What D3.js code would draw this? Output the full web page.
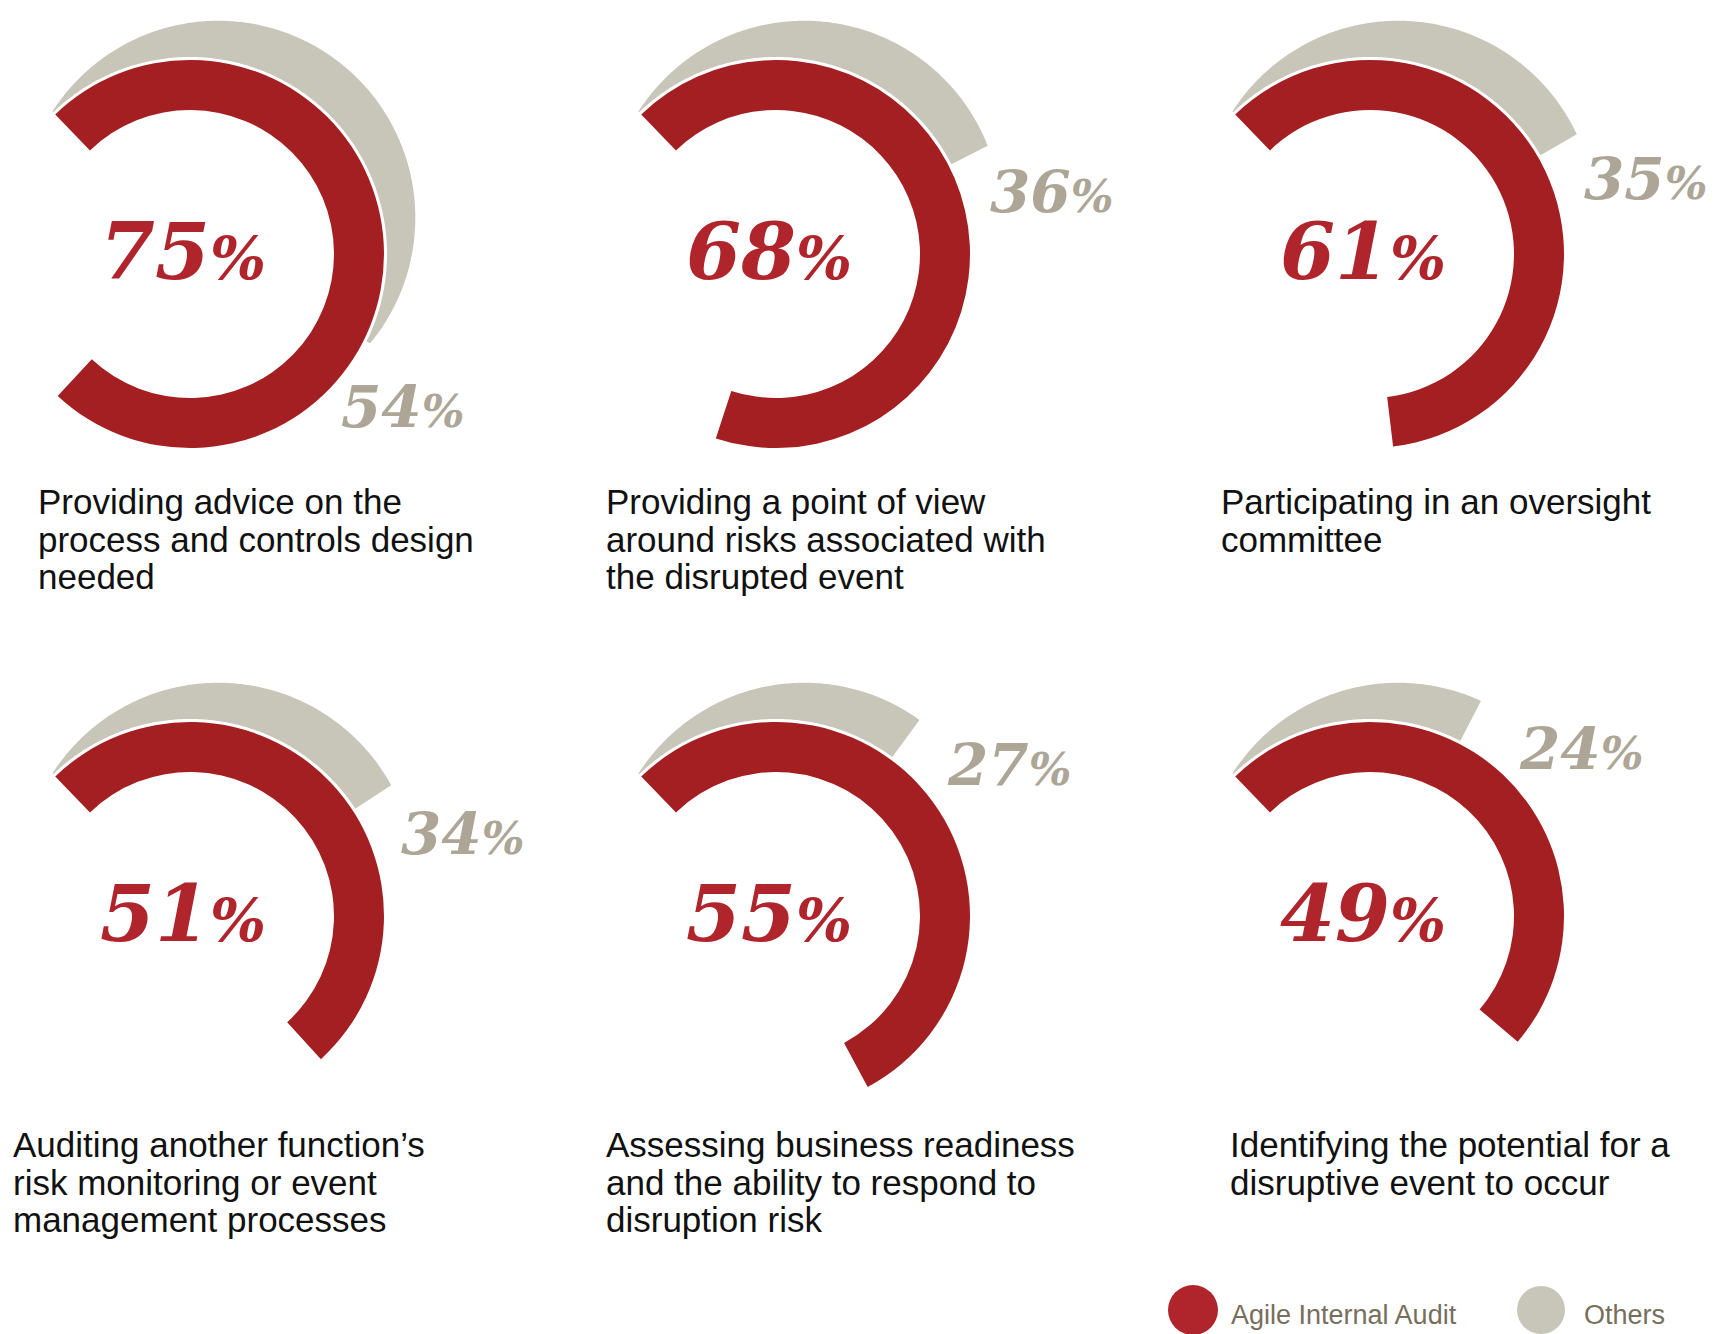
<!DOCTYPE html>
<html>
<head>
<meta charset="utf-8">
<script src="https://cdn.jsdelivr.net/npm/d3@7"></script>
<style>
  body { margin: 0; background: #fff; }
</style>
</head>
<body>
<div id="chart"></div>
<script>
// chart data
var categories = [
  ["Providing advice on the", "process and controls design", "needed"],
  ["Providing a point of view", "around risks associated with", "the disrupted event"],
  ["Participating in an oversight", "committee"],
  ["Auditing another function\u2019s", "risk monitoring or event", "management processes"],
  ["Assessing business readiness", "and the ability to respond to", "disruption risk"],
  ["Identifying the potential for a", "disruptive event to occur"]
];
var agileValues = [75, 68, 61, 51, 55, 49];
var otherValues = [54, 36, 35, 34, 27, 24];
var seriesNames = ["Agile Internal Audit", "Others"];

// layout
var svgWidth = 1723;
var svgHeight = 1334;
var colX = [190, 776, 1370];
var rowY = [254, 916];
var labelX = [38, 606, 1221, 13, 606, 1230];
var labelY = [514, 1157];
var lineHeight = 37.5;
// where the "others" value label sits, relative to each ring's centre
var otherLabelPos = [[151, 173], [214, -42], [214, -55], [211, -62], [172, -131], [150, -147]];

var redColor = "#a31f22";
var redText = "#b0242b";
var greyColor = "#c8c5b9";
var greyText = "#ada697";

var rad = Math.PI / 180;

// angle scales (0 = 12 o'clock, clockwise)
var redAngle = d3.scaleLinear().domain([0, 100]).range([-44 * rad, 312 * rad]);
var greyAngle = d3.scaleLinear().domain([0, 100]).range([-44 * rad, 253 * rad]);

// red ring
var redArc = d3.arc()
  .innerRadius(144)
  .outerRadius(194);

// grey crescent: inner edge hugs the red ring, outer edge is an offset circle
var greyInner = 197;
var offD = 46, offPhi = 38 * rad, offR = 197;
function greyOuter(a) {
  var t = offD * Math.cos(a - offPhi) + Math.sqrt(offR * offR - Math.pow(offD * Math.sin(a - offPhi), 2));
  return Math.max(t, greyInner);
}
var greyArea = d3.areaRadial()
  .angle(d => d)
  .innerRadius(greyInner)
  .outerRadius(d => greyOuter(d));

var svg = d3.select("#chart")
  .append("svg")
  .attr("width", svgWidth)
  .attr("height", svgHeight);

agileValues.forEach(function(v, i) {
  var cx = colX[i % 3];
  var cy = rowY[Math.floor(i / 3)];
  var g = svg.append("g").attr("transform", `translate(${cx}, ${cy})`);

  // grey arc (others)
  var a0 = greyAngle(0), a1 = greyAngle(otherValues[i]);
  var steps = d3.range(a0, a1, 0.5 * rad).concat([a1]);
  g.append("path")
    .attr("d", greyArea(steps))
    .attr("fill", greyColor);

  // red arc (agile)
  g.append("path")
    .attr("d", redArc({ startAngle: redAngle(0), endAngle: redAngle(v) }))
    .attr("fill", redColor);

  // center value
  var t = g.append("text")
    .attr("x", -7)
    .attr("y", 25)
    .attr("text-anchor", "middle")
    .attr("font-family", "DejaVu Serif")
    .attr("font-weight", "bold")
    .attr("font-style", "italic")
    .attr("fill", redText)
    .attr("font-size", 79);
  t.append("tspan").text(v);
  t.append("tspan").attr("font-size", 59).text("%");

  // grey value
  var gt = g.append("text")
    .attr("x", otherLabelPos[i][0])
    .attr("y", otherLabelPos[i][1])
    .attr("font-family", "DejaVu Serif")
    .attr("font-weight", "bold")
    .attr("font-style", "italic")
    .attr("fill", greyText)
    .attr("font-size", 58);
  gt.append("tspan").text(otherValues[i]);
  gt.append("tspan").attr("font-size", 45).text("%");

  // category label
  var lt = svg.append("text")
    .attr("x", labelX[i])
    .attr("y", labelY[Math.floor(i / 3)])
    .attr("font-family", "Liberation Sans, Arial, sans-serif")
    .attr("font-size", 35)
    .attr("fill", "#111");
  lt.selectAll("tspan")
    .data(categories[i])
    .enter()
    .append("tspan")
    .attr("x", labelX[i])
    .attr("dy", (d, j) => j === 0 ? 0 : lineHeight)
    .text(d => d);
});

// legend
var legendX = [1193, 1541];
var legend = svg.append("g");
seriesNames.forEach(function(name, i) {
  legend.append("circle")
    .attr("cx", legendX[i])
    .attr("cy", 1310)
    .attr("r", i === 0 ? 25 : 24)
    .attr("fill", i === 0 ? "#b0242b" : greyColor);
  legend.append("text")
    .attr("x", legendX[i] + (i === 0 ? 38 : 43))
    .attr("y", 1324)
    .attr("font-family", "Liberation Sans, Arial, sans-serif")
    .attr("font-size", 27)
    .attr("fill", "#776e5c")
    .text(name);
});
</script>
</body>
</html>
